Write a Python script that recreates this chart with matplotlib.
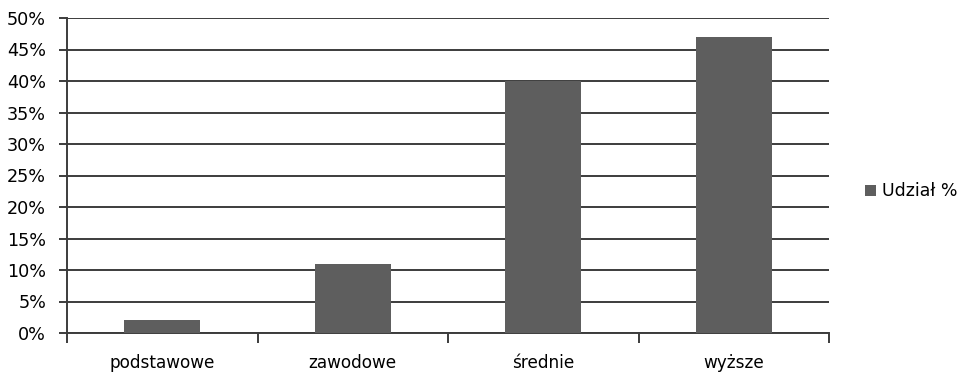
import numpy as np
import matplotlib.pyplot as plt
from matplotlib.ticker import FuncFormatter, FixedLocator

plt.rcParams['font.family'] = ['DejaVu Sans']

categories = ['podstawowe', 'zawodowe', 'średnie', 'wyższe']
shares = [2, 11, 40, 47]
series_name = 'Udział %'

bar_color = '#5e5e5e'
line_color = '#3c3c3c'

fig = plt.figure(figsize=(9.66, 3.73), dpi=100)
ax = fig.add_axes([67 / 966, 40 / 373, (829 - 67) / 966, (333 - 18) / 373])

x = np.arange(len(categories))
ax.bar(x, shares, width=0.4, color=bar_color, label=series_name, zorder=3)

ax.set_xlim(-0.5, len(categories) - 0.5)
ax.set_ylim(0, 50)
ax.set_yticks(np.arange(0, 51, 5))
ax.yaxis.set_major_formatter(FuncFormatter(lambda v, p: f'{v:.0f}%'))
ax.grid(axis='y', color=line_color, linewidth=1.4, zorder=0)

# category labels centred, tick marks on category boundaries
ax.set_xticks(x)
ax.set_xticklabels(categories, fontsize=12.2)
ax.tick_params(axis='x', length=0, pad=15)
ax.xaxis.set_minor_locator(FixedLocator(np.arange(-0.5, len(categories), 1)))
ax.tick_params(axis='x', which='minor', length=7, width=1.4, color=line_color)
ax.tick_params(axis='y', length=6, width=1.4, color=line_color, labelsize=12.7, pad=9)

for side in ['top', 'right']:
    ax.spines[side].set_visible(False)
for side in ['left', 'bottom']:
    ax.spines[side].set_color(line_color)
    ax.spines[side].set_linewidth(1.4)

ax.legend(loc='center left', bbox_to_anchor=(1.036, 0.45), frameon=False,
          fontsize=12.5, handlelength=0.6, handleheight=0.6, handletextpad=0.35,
          borderpad=0)

fig.savefig('out.png', dpi=100)
